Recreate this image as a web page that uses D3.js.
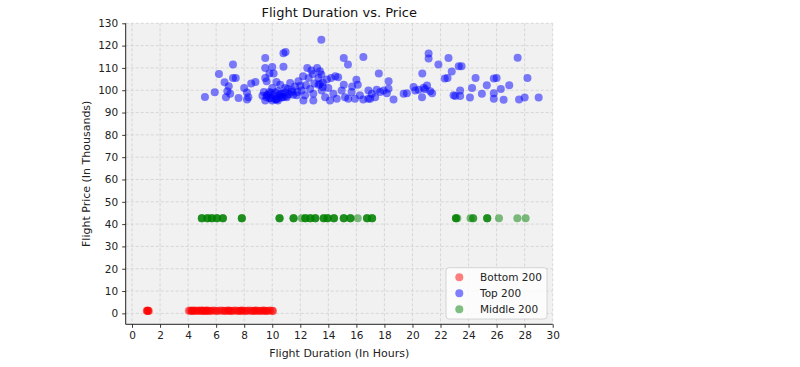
<!DOCTYPE html>
<html>
<head>
<meta charset="utf-8">
<script src="https://cdn.jsdelivr.net/npm/d3@7"></script>
<style>
  html, body { margin: 0; padding: 0; background: #ffffff; }
  svg { display: block; font-family: "DejaVu Sans", sans-serif; }
</style>
</head>
<body>
<svg id="chart" width="800" height="367"></svg>
<script>
// ---- Data (hours, price in thousands) ----
const seriesNames = ["Bottom 200", "Top 200", "Middle 200"];
const seriesColors = ["red", "blue", "green"];

const bottomHours = [1.05, 1.1, 1.12, 1.15, 1.2,
  4.05, 4.15, 4.25, 4.35, 4.45, 4.55, 4.65, 4.75, 4.85, 4.95, 5.05, 5.15, 5.25, 5.35, 5.45,
  5.55, 5.65, 5.8, 5.95, 6.05, 6.2, 6.35, 6.5, 6.6, 6.7, 6.85, 7.0, 7.1, 7.2, 7.35, 7.5,
  7.6, 7.7, 7.85, 8.0, 8.1, 8.2, 8.35, 8.5, 8.6, 8.7, 8.85, 9.0, 9.1, 9.2, 9.35, 9.5,
  9.6, 9.7, 9.85, 10.0, 10.05, 4.3, 5.0, 5.3, 6.9, 7.8, 8.8, 9.4];
const bottomPrices = [1.2, 1.1, 1.3, 1.2, 1.1,
  1.2, 1.3, 1.1, 1.2, 1.3, 1.2, 1.1, 1.3, 1.2, 1.2, 1.3, 1.1, 1.2, 1.3, 1.2,
  1.1, 1.2, 1.3, 1.2, 1.1, 1.2, 1.3, 1.2, 1.1, 1.2, 1.3, 1.2, 1.1, 1.2, 1.3, 1.2,
  1.1, 1.2, 1.3, 1.2, 1.1, 1.2, 1.3, 1.2, 1.1, 1.2, 1.3, 1.2, 1.1, 1.2, 1.3, 1.2,
  1.1, 1.2, 1.3, 1.2, 1.1, 1.2, 1.2, 1.2, 1.2, 1.2, 1.2, 1.2];

const topHours = [
  5.2, 5.9, 6.2, 6.6, 6.9, 6.8, 7.0, 7.2, 7.2, 7.4, 6.7, 7.6, 8.0, 8.2, 8.3, 8.2, 8.5, 8.8,
  9.5, 9.5, 10.0, 9.8, 10.1, 9.5, 9.6, 10.3, 10.8, 10.8,
  9.4, 9.6, 9.8, 10.1, 10.3, 10.6, 10.8, 9.5, 10.0, 10.4, 9.7, 9.9, 10.2, 10.5, 10.0, 9.3,
  10.95, 12.5, 12.8, 13.2, 13.4, 13.5, 15.1, 15.4, 16.5,
  12.2, 12.6, 12.9, 13.3, 13.5, 13.9, 14.2, 14.5, 14.7,
  15.1, 15.7, 16.0, 16.1,
  10.57, 10.92, 11.28, 11.63, 11.87, 10.68, 11.04, 11.39, 11.75, 12.1, 12.34, 12.7, 12.93,
  13.3, 13.53, 13.77, 14.0, 14.36, 14.6, 14.95, 15.19, 15.42, 15.66, 15.9, 16.25, 16.49,
  16.85, 12.22, 12.93, 14.12, 11.1, 11.5, 12.0, 13.0, 13.6,
  9.6, 9.9, 10.2, 10.4, 10.7, 10.9, 11.2, 11.4, 9.8, 10.3, 10.6, 11.0, 13.4, 13.6, 12.4, 11.8,
  21.15, 21.15, 21.85, 22.57, 17.6, 18.3, 20.7, 22.8, 22.3, 22.5, 23.3,
  16.86, 17.1, 17.45, 17.7, 17.94, 18.17, 18.29, 16.99, 17.34, 18.65, 19.37, 19.6, 20.08,
  20.2, 20.44, 20.8, 21.04, 21.27, 20.68, 22.93, 20.9, 21.4,
  27.5, 23.5, 24.5, 25.8, 26.0, 28.2, 25.3, 26.9, 26.3, 24.25, 23.4, 23.4, 23.05, 24.95,
  24.1, 25.8, 25.8, 26.5, 27.6, 28.0, 29.0];
const topPrices = [
  97.0, 99.1, 107.3, 103.6, 101.8, 99.6, 98.4, 111.5, 105.5, 105.5, 96.9, 96.5, 101.0, 99.0, 96.9, 95.9, 103.0, 103.7,
  114.5, 110.0, 110.4, 107.5, 107.5, 105.5, 104.0, 103.7, 110.5, 116.6,
  99.2, 96.9, 99.2, 97.7, 96.2, 98.4, 96.9, 95.4, 95.4, 95.4, 98.0, 96.5, 99.0, 97.5, 101.0, 97.5,
  117.1, 110.0, 108.8, 110.0, 108.5, 122.6, 114.4, 111.5, 114.9,
  106.3, 105.5, 107.3, 105.5, 107.0, 104.8, 105.5, 106.3, 105.8,
  102.5, 101.7, 104.7, 102.5,
  102.5, 101.0, 103.3, 101.7, 104.0, 98.4, 96.9, 99.2, 97.7, 99.9, 97.7, 100.6, 98.4,
  102.5, 99.9, 96.9, 101.0, 98.4, 96.2, 99.9, 96.9, 96.2, 99.2, 96.2, 97.7, 95.8,
  96.2, 95.4, 95.4, 95.4, 100.5, 98.0, 102.0, 103.0, 101.5,
  97.8, 98.8, 96.0, 99.6, 97.0, 99.0, 98.2, 100.0, 96.4, 95.8, 96.6, 97.4, 102.8, 103.4, 102.2, 99.2,
  116.5, 114.2, 111.5, 114.4, 107.5, 104.0, 107.5, 108.4, 105.3, 105.5, 110.7,
  99.9, 98.4, 100.2, 99.2, 99.9, 98.7, 100.7, 96.2, 96.9, 95.8, 98.4, 98.7, 101.4,
  99.9, 100.2, 101.1, 102.1, 99.6, 96.9, 97.7, 100.4, 98.7,
  114.6, 110.7, 105.5, 105.3, 105.5, 105.5, 102.2, 102.2, 100.6, 101.0, 99.9, 97.4, 97.4, 98.4,
  96.7, 98.7, 96.2, 95.7, 95.8, 96.7, 96.7];

const middleHours = [
  4.98, 4.98, 4.98, 5.38, 5.38, 5.38, 5.69, 5.69, 5.69, 6.05, 6.05, 6.05, 6.48, 6.48, 6.48,
  7.83, 7.83, 7.83, 10.52, 10.52, 10.52, 11.52, 11.52, 11.52, 12.1,
  12.36, 12.36, 12.36, 12.71, 12.71, 12.71, 13.07, 13.07, 13.07, 13.67, 13.67, 13.67,
  13.95, 13.95, 13.95, 14.4, 14.4, 14.4, 15.1, 15.1, 15.1, 15.57, 15.57, 15.57, 16.1,
  16.76, 16.76, 16.76, 17.12, 17.12, 17.12, 23.1, 23.1, 23.1, 23.2, 24.14, 24.33, 24.33,
  25.33, 25.33, 25.33, 26.17, 27.48, 28.07];
const middlePrice = 42.6;

const xTicks = [0, 2, 4, 6, 8, 10, 12, 14, 16, 18, 20, 22, 24, 26, 28, 30];
const yTicks = [0, 10, 20, 30, 40, 50, 60, 70, 80, 90, 100, 110, 120, 130];

// ---- Build point sets ----
const bottomPts = bottomHours.map((h, i) => ({ h, p: bottomPrices[i] }));
const topPts = topHours.map((h, i) => ({ h, p: topPrices[i] }));
const middlePts = middleHours.map(h => ({ h, p: middlePrice }));
const allSeries = [bottomPts, topPts, middlePts];

// ---- Layout ----
const svg = d3.select("#chart");
const L = 125.7, R = 552.7, T = 23.3, B = 324.3;

const x = d3.scaleLinear().domain([-0.45, 30]).range([L, R]);
const y = d3.scaleLinear().domain([-4.9, 130]).range([B, T]);

// plot background
svg.append("rect").attr("x", L).attr("y", T).attr("width", R - L).attr("height", B - T)
  .attr("fill", "#f1f1f1");

// grid
const grid = svg.append("g");
grid.selectAll("line.gx").data(xTicks).join("line")
  .attr("x1", d => x(d)).attr("x2", d => x(d)).attr("y1", T).attr("y2", B)
  .attr("stroke", "#cfcfcf").attr("stroke-width", 0.8).attr("stroke-dasharray", "3,2");
grid.selectAll("line.gy").data(yTicks).join("line")
  .attr("y1", d => y(d)).attr("y2", d => y(d)).attr("x1", L).attr("x2", R)
  .attr("stroke", "#cfcfcf").attr("stroke-width", 0.8).attr("stroke-dasharray", "3,2");

// points
const plot = svg.append("g");
allSeries.forEach((pts, i) => {
  plot.append("g").selectAll("circle").data(pts).join("circle")
    .attr("cx", d => x(d.h)).attr("cy", d => y(d.p)).attr("r", 4)
    .attr("fill", seriesColors[i]).attr("fill-opacity", 0.5);
});

// axes
const xAxis = svg.append("g").attr("transform", `translate(0,${B})`)
  .call(d3.axisBottom(x).tickValues(xTicks).tickSize(3.5).tickPadding(3.5).tickSizeOuter(0));
const yAxis = svg.append("g").attr("transform", `translate(${L},0)`)
  .call(d3.axisLeft(y).tickValues(yTicks).tickSize(3.5).tickPadding(4).tickSizeOuter(0));
[xAxis, yAxis].forEach(a => {
  a.select(".domain").attr("stroke", "#222").attr("stroke-width", 1);
  a.selectAll(".tick line").attr("stroke", "#222").attr("stroke-width", 0.9);
  a.selectAll(".tick text").attr("fill", "#222").style("font-size", "10.5px")
    .style("font-family", "DejaVu Sans, sans-serif");
});
xAxis.select(".domain").attr("d", `M${L},0H${R}`);
yAxis.select(".domain").attr("d", `M0,${B}V${T}`);

// title and labels
svg.append("text").attr("x", (L + R) / 2).attr("y", 17).attr("text-anchor", "middle")
  .style("font-size", "13px").attr("fill", "#111").text("Flight Duration vs. Price");
svg.append("text").attr("x", (L + R) / 2).attr("y", 356.5).attr("text-anchor", "middle")
  .style("font-size", "11px").attr("fill", "#222").text("Flight Duration (In Hours)");
svg.append("text").attr("transform", `translate(90,${(T + B) / 2}) rotate(-90)`)
  .attr("text-anchor", "middle").style("font-size", "11px").attr("fill", "#222")
  .text("Flight Price (In Thousands)");

// legend
const lg = svg.append("g");
lg.append("rect").attr("x", 446).attr("y", 267.7).attr("width", 101).attr("height", 51.3)
  .attr("rx", 3).attr("fill", "white").attr("fill-opacity", 0.8)
  .attr("stroke", "#cccccc").attr("stroke-width", 0.8);
seriesNames.forEach((name, i) => {
  const cy = 277.3 + i * 16;
  lg.append("circle").attr("cx", 459.3).attr("cy", cy).attr("r", 4)
    .attr("fill", seriesColors[i]).attr("fill-opacity", 0.5);
  lg.append("text").attr("x", 480).attr("y", cy).attr("dy", "0.35em")
    .style("font-size", "10.5px").attr("fill", "#222").text(name);
});
</script>
</body>
</html>
